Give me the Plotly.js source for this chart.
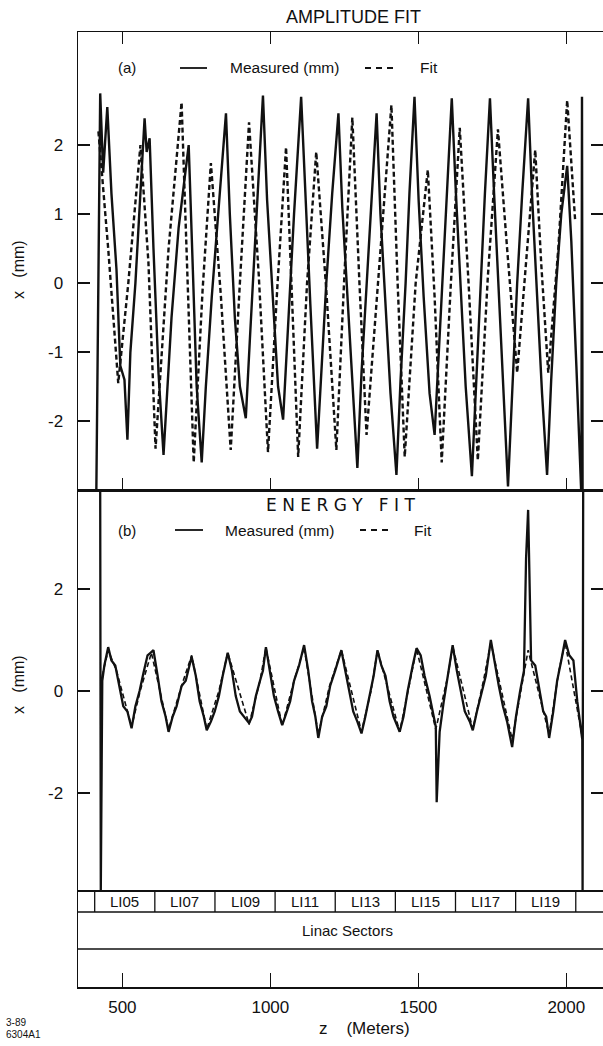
<!DOCTYPE html>
<html><head><meta charset="utf-8">
<script src="https://cdn.plot.ly/plotly-3.0.1.min.js"></script>
<style>html,body{margin:0;padding:0;background:#fff;overflow:hidden}#chart{width:603px;height:1046px}</style>
</head><body><div id="chart"></div>
<script>
// ---- data (z in meters, x in mm) ----
const zA = [412, 419, 425, 435, 449, 463, 480, 493, 507, 517,
  527, 544, 558, 575, 582, 592, 605, 622, 639, 649,
  666, 690, 710, 724, 738, 751, 768, 782, 802, 826,
  850, 863, 880, 897, 917, 931, 951, 975, 989, 1009,
  1026, 1043, 1060, 1080, 1104, 1118, 1135, 1158, 1172, 1189,
  1209, 1230, 1243, 1264, 1277, 1294, 1308, 1325, 1342, 1359,
  1372, 1389, 1406, 1426, 1440, 1457, 1470, 1487, 1501, 1518,
  1538, 1555, 1569, 1586, 1599, 1613, 1627, 1644, 1660, 1681,
  1694, 1711, 1725, 1742, 1756, 1772, 1786, 1803, 1817, 1834,
  1851, 1871, 1885, 1902, 1918, 1935, 1949, 1966, 1983, 2003,
  2017, 2034, 2047, 2051, 2053, 2055];
const measuredA = [-3.0, 0.8, 2.75, 1.6, 2.55, 1.3, 0.2, -1.2, -1.4, -2.27,
  -1.0, 0.0, 1.0, 2.39, 1.9, 2.1, 0.5, -1.3, -2.49, -1.8,
  -0.5, 0.8, 1.5, 2.0, 0.2, -1.5, -2.6, -1.5, -0.2, 1.2,
  2.46, 1.0, -0.5, -1.5, -1.96, -0.8, 0.8, 2.72, 1.2, -0.3,
  -1.5, -1.98, -0.6, 1.0, 2.7, 1.3, -0.3, -2.4, -1.3, 0.0,
  1.3, 2.46, 1.1, -0.5, -1.5, -2.68, -1.3, 0.0, 1.2, 2.46,
  1.0, -0.4, -1.6, -2.78, -1.4, 0.0, 1.3, 2.7, 1.2, -0.2,
  -1.6, -2.2, -1.0, 0.3, 1.4, 2.68, 1.3, -0.2, -1.5, -2.8,
  -1.5, 0.0, 1.3, 2.68, 1.3, -0.2, -1.5, -2.95, -1.6, 0.0,
  1.3, 2.68, 1.2, -0.2, -1.6, -2.78, -1.4, 0.0, 1.0, 1.7,
  0.6, -1.2, -2.6, -3.1, 2.7, -3.1];

const zFitA = [419, 452, 486, 520, 561, 588, 612, 656, 700, 721,
  741, 771, 799, 833, 866, 897, 928, 961, 992, 1023,
  1053, 1073, 1094, 1124, 1155, 1189, 1223, 1250, 1277, 1301,
  1325, 1369, 1409, 1430, 1454, 1491, 1532, 1555, 1579, 1610,
  1640, 1671, 1701, 1735, 1769, 1800, 1834, 1864, 1895, 1915,
  1939, 1973, 2003, 2030];
const fitA = [2.2, 0.5, -1.45, 0.0, 2.0, 0.3, -2.4, 0.5, 2.62, 0.0,
  -2.6, -0.1, 1.74, -0.2, -2.42, 0.0, 2.33, 0.1, -2.45, -0.1,
  1.97, -0.2, -2.52, 0.0, 1.9, -0.1, -2.42, 0.1, 2.4, 0.0,
  -2.2, 0.3, 2.58, 0.0, -2.52, 0.0, 1.64, -0.2, -2.6, 0.0,
  2.25, -0.1, -2.57, 0.1, 2.23, 0.5, -1.3, 0.3, 1.93, 0.3,
  -1.3, 0.5, 2.65, 0.9];

const zB = [425, 427, 432, 439, 452, 463, 476, 490, 503, 517,
  531, 544, 558, 571, 585, 595, 605, 619, 632, 646,
  656, 670, 683, 700, 714, 734, 748, 761, 775, 785,
  799, 812, 826, 839, 856, 870, 883, 897, 911, 928,
  938, 951, 965, 975, 985, 999, 1012, 1026, 1040, 1053,
  1067, 1080, 1097, 1114, 1128, 1141, 1152, 1162, 1175, 1189,
  1202, 1219, 1240, 1253, 1267, 1280, 1294, 1308, 1321, 1335,
  1349, 1362, 1375, 1389, 1403, 1416, 1437, 1450, 1464, 1481,
  1494, 1508, 1521, 1538, 1552, 1559, 1562, 1565, 1572, 1586,
  1599, 1616, 1630, 1644, 1657, 1674, 1684, 1698, 1711, 1728,
  1745, 1759, 1772, 1786, 1800, 1817, 1830, 1844, 1857, 1864,
  1871, 1874, 1881, 1895, 1908, 1922, 1932, 1942, 1956, 1969,
  1983, 1996, 2010, 2024, 2037, 2047, 2054, 2055, 2057];
const measuredB = [3.95, -3.95, 0.2, 0.5, 0.86, 0.6, 0.5, 0.1, -0.3, -0.4,
  -0.73, -0.3, 0.0, 0.35, 0.7, 0.75, 0.8, 0.3, -0.2, -0.5,
  -0.8, -0.5, -0.3, 0.1, 0.2, 0.67, 0.3, -0.2, -0.5, -0.77,
  -0.6, -0.4, -0.1, 0.3, 0.75, 0.4, -0.1, -0.4, -0.5, -0.63,
  -0.5, -0.1, 0.2, 0.4, 0.86, 0.4, -0.1, -0.4, -0.67, -0.45,
  -0.2, 0.2, 0.5, 0.9, 0.4, -0.2, -0.5, -0.92, -0.5, -0.3,
  0.1, 0.4, 0.8, 0.4, 0.0, -0.4, -0.6, -0.83, -0.5, -0.1,
  0.3, 0.8, 0.5, 0.3, -0.2, -0.5, -0.8, -0.5, 0.0, 0.5,
  0.84, 0.7, 0.3, -0.1, -0.5, -0.7, -2.18, -1.7, -0.8, -0.2,
  0.3, 0.9, 0.4, 0.0, -0.4, -0.6, -0.77, -0.4, -0.1, 0.3,
  1.0, 0.5, 0.1, -0.3, -0.6, -1.1, -0.5, 0.0, 0.4, 2.6,
  3.55, 2.7, 0.6, 0.5, 0.1, -0.4, -0.5, -0.92, -0.4, 0.2,
  0.6, 1.0, 0.7, 0.6, -0.2, -0.7, -0.95, -3.95, 3.95];

const zFitB = [432, 452, 480, 531, 560, 598, 656, 700, 734, 785,
  826, 856, 928, 965, 985, 1040, 1080, 1114, 1162, 1200,
  1240, 1308, 1340, 1362, 1437, 1470, 1494, 1559, 1600, 1616,
  1684, 1720, 1745, 1817, 1850, 1871, 1942, 1975, 1996, 2054];
const fitB = [0.3, 0.8, 0.4, -0.7, 0.0, 0.75, -0.75, 0.1, 0.7, -0.75,
  0.0, 0.75, -0.65, 0.2, 0.85, -0.68, 0.2, 0.85, -0.85, 0.1,
  0.8, -0.8, 0.0, 0.8, -0.8, 0.1, 0.82, -0.75, 0.3, 0.88,
  -0.75, 0.2, 0.95, -0.95, 0.1, 0.8, -0.85, 0.4, 0.95, -0.9];

const sectorEdges = [406.4, 609.6, 812.8, 1016.0, 1219.2, 1422.4, 1625.6, 1828.8, 2032.0];
const sectorLabels = ['LI05', 'LI07', 'LI09', 'LI11', 'LI13', 'LI15', 'LI17', 'LI19'];
const xTickVals = [500, 1000, 1500, 2000];
const yTicksA = [-2, -1, 0, 1, 2];
const yTicksB = [-2, 0, 2];

// ---- layout helpers (pixel -> paper) ----
const L = 78, R = 603, T = 32, B = 987;
const px = x => (x - L) / (R - L);
const py = y => (B - y) / (B - T);
const FONT = 'Liberation Sans, Arial, Helvetica, sans-serif';
const INK = '#111';

const traces = [
  {x: zA, y: measuredA, xaxis: 'x', yaxis: 'y', mode: 'lines', line: {color: INK, width: 2.4}, hoverinfo: 'skip'},
  {x: zFitA, y: fitA, xaxis: 'x', yaxis: 'y', mode: 'lines', line: {color: INK, width: 2.4, dash: '5px,3px'}, hoverinfo: 'skip'},
  {x: zFitB, y: fitB, xaxis: 'x2', yaxis: 'y2', mode: 'lines', line: {color: INK, width: 1.6, dash: '5px,3px'}, hoverinfo: 'skip'},
  {x: zB, y: measuredB, xaxis: 'x2', yaxis: 'y2', mode: 'lines', line: {color: INK, width: 2.3}, hoverinfo: 'skip'},
  {x: sectorEdges, y: sectorEdges.map(() => null), xaxis: 'x3', yaxis: 'y3', mode: 'lines', hoverinfo: 'skip'}
];

const xRange = [350, 2124];
const baseX = {range: xRange, showgrid: false, zeroline: false, showline: true, linecolor: INK, linewidth: 1.5};
const dA = [py(490), 1], dB = [py(890), py(490)], dC = [0, py(890)];

const layout = {
  width: 603, height: 1046,
  margin: {l: L, r: 0, t: T, b: 1046 - B, pad: 0},
  paper_bgcolor: '#fff', plot_bgcolor: '#fff',
  showlegend: false,
  font: {family: FONT, color: INK, size: 17},
  xaxis: Object.assign({}, baseX, {anchor: 'y', mirror: 'ticks', ticks: 'inside', ticklen: 12, tickwidth: 1.5, tickcolor: INK, tickvals: xTickVals, showticklabels: false}),
  xaxis2: Object.assign({}, baseX, {anchor: 'y2', mirror: true, ticks: '', showticklabels: false}),
  xaxis3: Object.assign({}, baseX, {anchor: 'y3', mirror: false, ticks: 'inside', ticklen: 14, tickwidth: 1.5, tickcolor: INK, tickvals: xTickVals, ticktext: xTickVals.map(String), ticklabelstandoff: 4, tickfont: {size: 17, family: FONT, color: INK}}),
  yaxis: {domain: dA, anchor: 'x', range: [-3.0, 3.64], showgrid: false, zeroline: false, showline: true, linecolor: INK, linewidth: 1.5, mirror: 'ticks', ticks: 'inside', ticklen: 12, tickwidth: 1.5, tickcolor: INK, tickvals: yTicksA, ticktext: yTicksA.map(String), ticklabelstandoff: 10, tickfont: {size: 17, family: FONT, color: INK}},
  yaxis2: {domain: dB, anchor: 'x2', range: [-3.9, 3.94], showgrid: false, zeroline: false, showline: true, linecolor: INK, linewidth: 1.5, mirror: 'ticks', ticks: 'inside', ticklen: 12, tickwidth: 1.5, tickcolor: INK, tickvals: yTicksB, ticktext: yTicksB.map(String), ticklabelstandoff: 10, tickfont: {size: 17, family: FONT, color: INK}},
  yaxis3: {domain: dC, anchor: 'x3', range: [97, 0], showgrid: false, zeroline: false, showline: true, linecolor: INK, linewidth: 1.5, mirror: true, ticks: '', showticklabels: false},
  shapes: [],
  annotations: []
};

// sector strip
sectorEdges.forEach(e => layout.shapes.push({type: 'line', xref: 'x3', yref: 'y3', x0: e, x1: e, y0: 0, y1: 22, line: {color: INK, width: 1.3}}));
[22, 59].forEach(v => layout.shapes.push({type: 'line', xref: 'paper', yref: 'y3', x0: 0, x1: 1, y0: v, y1: v, line: {color: INK, width: 1.3}}));
sectorLabels.forEach((s, i) => layout.annotations.push({xref: 'x3', yref: 'y3', x: (sectorEdges[i] + sectorEdges[i + 1]) / 2, y: 11, text: s, showarrow: false, font: {size: 15, family: FONT, color: INK}}));
layout.annotations.push({xref: 'paper', yref: 'y3', x: px(347), y: 40, text: 'Linac Sectors', showarrow: false, font: {size: 15, family: FONT, color: INK}});

// legends
function legendLine(x0, x1, y, dash) {
  layout.shapes.push({type: 'line', xref: 'paper', yref: 'paper', x0: px(x0), x1: px(x1), y0: py(y), y1: py(y), line: {color: INK, width: 1.8, dash: dash}});
}
function txt(x, y, t, size, anchor, extra) {
  layout.annotations.push(Object.assign({xref: 'paper', yref: 'paper', x: px(x), y: py(y), text: t, showarrow: false, xanchor: anchor, yanchor: 'middle', font: {size: size, family: FONT, color: INK}}, extra || {}));
}
legendLine(180, 207, 68, 'solid');
legendLine(365, 397, 68, '6px,5px');
txt(127, 68, '(a)', 15, 'center');
txt(228, 68, 'Measured (mm)', 15.5, 'left');
txt(418, 68, 'Fit', 15.5, 'left');
legendLine(175, 203, 530, 'solid');
legendLine(360, 390, 530, '6px,5px');
txt(127, 530, '(b)', 15, 'center');
txt(223, 530, 'Measured (mm)', 15.5, 'left');
txt(412, 530, 'Fit', 15.5, 'left');

// titles
txt(353, 17, 'AMPLITUDE FIT', 18, 'center');
txt(340, 505, 'E N E R G Y&nbsp;&nbsp;&nbsp;F I T', 17, 'center', {font: {size: 17, family: 'DejaVu Sans, sans-serif', color: INK}});
txt(18, 270, 'x&nbsp;&nbsp;&nbsp;(mm)', 16, 'center', {textangle: -90});
txt(18, 685, 'x&nbsp;&nbsp;&nbsp;(mm)', 16, 'center', {textangle: -90});
txt(364, 1028, 'z&nbsp;&nbsp;&nbsp;&nbsp;(Meters)', 17, 'center');
txt(4, 1022, '3-89', 10, 'left');
txt(4, 1034, '6304A1', 10, 'left');

Plotly.newPlot('chart', traces, layout, {staticPlot: true, displayModeBar: false});
</script>
</body></html>
